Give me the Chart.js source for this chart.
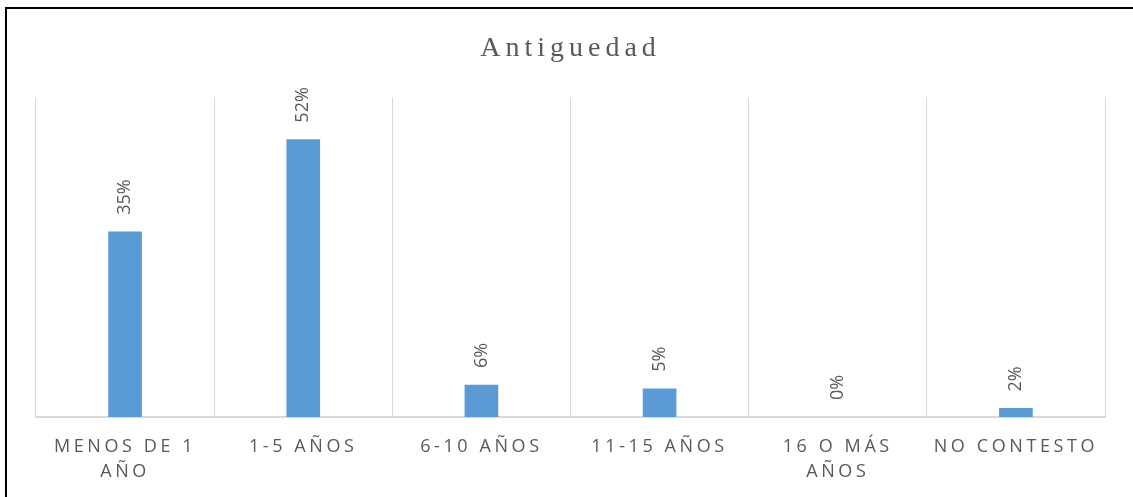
<!DOCTYPE html>
<html>
<head>
<meta charset="utf-8">
<script src="https://cdn.jsdelivr.net/npm/chart.js@4/dist/chart.umd.min.js"></script>
<style>
  html, body { margin: 0; padding: 0; background: #fff; overflow: hidden; }
  #wrap { position: relative; width: 1133px; height: 497px; }
  #frame {
    position: absolute; left: 5px; top: 7px; width: 1200px; height: 600px;
    border-left: 2px solid #000; border-top: 2px solid #000; pointer-events: none;
  }
</style>
</head>
<body>
<div id="wrap">
  <canvas id="chart" width="1133" height="497"></canvas>
  <div id="frame"></div>
</div>
<script>
const categories = [['MENOS DE 1', 'AÑO'], '1-5 AÑOS', '6-10 AÑOS', '11-15 AÑOS', ['16 O MÁS', 'AÑOS'], 'NO CONTESTO'];
const values = [34.8, 52.1, 6.0, 5.3, 0, 1.6];
const valueLabels = ['35%', '52%', '6%', '5%', '0%', '2%'];

const textGray = '#595959';
const barBlue = '#5B9BD5';

// rotated labels above each bar
const barLabels = {
    id: 'barLabels',
    afterDatasetsDraw(chart) {
        const ctx = chart.ctx;
        const meta = chart.getDatasetMeta(0);
        const yScale = chart.scales.y;
        meta.data.forEach((bar, i) => {
            const top = yScale.getPixelForValue(values[i]);
            ctx.save();
            ctx.letterSpacing = '0px';
            ctx.font = '18px "Open Sans"';
            ctx.fillStyle = textGray;
            ctx.translate(bar.x, top - 17);
            ctx.rotate(-Math.PI / 2);
            ctx.textAlign = 'left';
            ctx.textBaseline = 'middle';
            ctx.fillText(valueLabels[i], 0, 0);
            ctx.restore();
        });
    }
};

// spaced-out lettering like the original
const spacing = {
    id: 'spacing',
    afterInit(chart) {
        const tb = chart.titleBlock;
        if (tb) {
            const orig = tb.draw.bind(tb);
            tb.draw = function (area) {
                chart.ctx.save();
                chart.ctx.letterSpacing = '5px';
                orig(area);
                chart.ctx.restore();
            };
        }
    },
    beforeUpdate(chart) { chart.ctx.letterSpacing = '3.6px'; },
    beforeDraw(chart) { chart.ctx.letterSpacing = '3.6px'; }
};

new Chart(document.getElementById('chart'), {
    type: 'bar',
    data: {
        labels: categories,
        datasets: [{
            data: values,
            backgroundColor: values.map(v => v > 0 ? barBlue : 'rgba(0,0,0,0)'),
            barThickness: 33
        }]
    },
    options: {
        responsive: false,
        devicePixelRatio: 1,
        animation: false,
        layout: { padding: { left: 36, right: 28, top: 0, bottom: -4 } },
        plugins: {
            legend: { display: false },
            tooltip: { enabled: false },
            title: {
                display: true,
                text: 'Antiguedad',
                color: textGray,
                font: { family: '"Liberation Serif"', size: 28, weight: 'normal', lineHeight: 1.2 },
                padding: { top: 32, bottom: 32 }
            }
        },
        scales: {
            x: {
                offset: true,
                grid: { offset: true, color: '#d9d9d9', lineWidth: 1, drawTicks: false },
                border: { display: true, color: '#d9d9d9', width: 2 },
                ticks: {
                    color: textGray,
                    font: { family: '"Open Sans"', size: 18, lineHeight: 1.39 },
                    padding: 17,
                    autoSkip: false,
                    maxRotation: 0
                }
            },
            y: {
                display: false,
                min: 0,
                max: 60
            }
        }
    },
    plugins: [barLabels, spacing]
});
</script>
</body>
</html>
